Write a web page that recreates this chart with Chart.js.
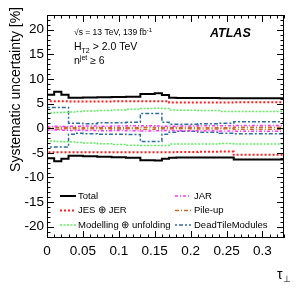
<!DOCTYPE html>
<html lang="en">
<head>
<meta charset="utf-8">
<title>Systematic uncertainty vs tau</title>
<script src="https://cdn.jsdelivr.net/npm/chart.js@4.4.1/dist/chart.umd.min.js"></script>
<style>
    html, body { margin: 0; padding: 0; background: #fff; }
    #wrap { position: relative; width: 300px; height: 288px; }
</style>
</head>
<body>
<div id="wrap"><canvas id="syst" width="300" height="288"></canvas></div>
<script>
// bin edges in tau_perp, one value per bin for each curve
const binEdges = [0, 0.01, 0.02, 0.03, 0.04, 0.05, 0.07, 0.09, 0.11, 0.13, 0.15, 0.16, 0.17, 0.18, 0.21, 0.24, 0.26, 0.29, 0.33];

const totalUp   = [6.3, 6.8, 7.4, 6.8, 6.2, 6.2, 6.25, 6.3, 6.35, 6.4, 6.95, 7.1, 6.75, 6.2, 6.15, 6.15, 6.1, 6.1];
const totalDown = [-5.2, -6.1, -6.7, -6.2, -5.6, -5.6, -5.7, -5.8, -5.9, -6.0, -6.5, -6.55, -6.2, -6.0, -5.95, -5.95, -5.95, -6.35];

const jesUp   = [5.75, 5.5, 5.5, 5.5, 5.45, 5.45, 5.45, 5.45, 5.5, 5.5, 5.5, 5.5, 5.5, 5.2, 5.2, 5.2, 5.25, 5.3];
const jesDown = [-4.4, -4.9, -4.9, -4.9, -4.9, -4.9, -4.9, -4.9, -4.9, -4.9, -4.9, -4.9, -4.9, -4.9, -4.85, -4.8, -4.75, -5.4];

const modelUp   = [3.0, 3.1, 3.2, 3.25, 3.3, 3.4, 3.5, 3.6, 3.7, 3.85, 4.0, 4.05, 4.0, 3.7, 3.65, 3.6, 3.4, 3.4];
const modelDown = [-2.5, -2.6, -2.7, -2.75, -2.8, -2.9, -3.0, -3.15, -3.3, -3.45, -3.5, -3.5, -3.5, -3.2, -3.2, -3.2, -3.1, -3.2];

const jarUp   = [0.3, 0.35, 0.4, 0.35, 0.4, 0.4, 0.45, 0.4, 0.45, 0.5, 0.5, 0.45, 0.4, 0.4, 0.45, 0.5, 0.5, 0.55];
const jarDown = [-0.3, -0.4, -0.35, -0.4, -0.45, -0.4, -0.45, -0.5, -0.45, -0.5, -0.55, -0.5, -0.45, -0.45, -0.5, -0.5, -0.55, -0.6];

const pileupUp   = [0.2, 0.1, 0.15, 0.2, 0.1, 0.1, 0.15, 0.1, 0.1, 0.15, 0.2, 0.1, 0.1, 0.1, 0.15, 0.1, 0.1, 0.2];
const pileupDown = [-0.15, -0.1, -0.2, -0.1, -0.1, -0.15, -0.1, -0.1, -0.15, -0.1, -0.2, -0.15, -0.1, -0.1, -0.1, -0.15, -0.1, -0.2];

const deadTileUp   = [0.3, 4.2, 4.2, 4.2, 1.0, 1.0, 0.9, 1.1, 1.1, 1.2, 3.0, 3.0, 1.2, 0.8, 0.8, 0.9, 1.0, 1.3];
const deadTileDown = [-0.3, -3.8, -3.8, -3.8, -1.2, -1.0, -1.1, -1.2, -1.2, -1.3, -2.7, -2.7, -1.2, -0.8, -0.6, -0.8, -1.0, -1.1];

const legendNames = ['Total', 'JES \u2295 JER', 'Modelling \u2295 unfolding', 'JAR', 'Pile-up', 'DeadTileModules'];
const xTickValues = [0, 0.05, 0.1, 0.15, 0.2, 0.25, 0.3];
const yTickValues = [-20, -15, -10, -5, 0, 5, 10, 15, 20];

const curves = [
    [totalUp, totalDown],
    [jesUp, jesDown],
    [modelUp, modelDown],
    [jarUp, jarDown],
    [pileupUp, pileupDown],
    [deadTileUp, deadTileDown],
];

const styles = [
    { color: '#000000', dash: [], width: 2 },
    { color: '#ff1f1f', dash: [2, 2], width: 2 },
    { color: '#5ef05e', dash: [2, 1.5], width: 1.5 },
    { color: '#ff33ff', dash: [3, 2, 1, 2], width: 1.5 },
    { color: '#cc6a2a', dash: [4, 2, 1, 2], width: 1.5 },
    { color: '#2f6e9e', dash: [2, 2, 4, 2], width: 1.5 },
];

const FONT = "'Liberation Sans', Arial, Helvetica, sans-serif";

const toSteps = (vals) => binEdges.map((e, k) => ({ x: e, y: vals[Math.min(k, vals.length - 1)] }));

const datasets = [];
curves.forEach((pair, i) => {
    pair.forEach((vals) => {
        datasets.push({
            label: legendNames[i],
            data: toSteps(vals),
            borderColor: styles[i].color,
            borderDash: styles[i].dash,
            borderWidth: styles[i].width,
            stepped: 'after',
            pointRadius: 0,
            fill: false,
        });
    });
});

// draws text with sub/superscripts, parts: [text, size, dy]
const drawParts = (ctx, parts, x, y, weight = '') => {
    parts.forEach(([t, size, dy]) => {
        ctx.font = `${weight} ${size}px ${FONT}`;
        ctx.fillText(t, x, y + dy);
        x += ctx.measureText(t).width;
    });
};

const rootFrame = {
    id: 'rootFrame',
    afterDraw(chart) {
        const { ctx, chartArea: a, scales: { x, y } } = chart;
        ctx.save();
        ctx.strokeStyle = '#000';
        ctx.lineWidth = 1;
        ctx.setLineDash([]);
        ctx.strokeRect(a.left + 0.5, a.top + 0.5, a.right - a.left - 1, a.bottom - a.top - 1);

        ctx.beginPath();
        for (let k = 0; k <= 33; k++) {
            const v = k / 100;
            const px = Math.round(x.getPixelForValue(v)) + 0.5;
            const len = k % 5 === 0 ? 7 : 3.5;
            ctx.moveTo(px, a.bottom); ctx.lineTo(px, a.bottom - len);
            ctx.moveTo(px, a.top); ctx.lineTo(px, a.top + len);
        }
        for (let v = -22; v <= 23; v++) {
            const py = Math.round(y.getPixelForValue(v)) + 0.5;
            const len = v % 5 === 0 ? 7 : 3.5;
            ctx.moveTo(a.left, py); ctx.lineTo(a.left + len, py);
            ctx.moveTo(a.right, py); ctx.lineTo(a.right - len, py);
        }
        ctx.stroke();

        ctx.fillStyle = '#000';
        ctx.textBaseline = 'alphabetic';
        ctx.textAlign = 'left';

        // labels in the top left corner
        drawParts(ctx, [['\u221As = 13 TeV, 139 fb', 8.5, 0], ['-1', 6, -3.5]], 74, 35);
        drawParts(ctx, [['H', 10.5, 0], ['T2', 7, 2.5], [' > 2.0 TeV', 10.5, 0]], 74, 50);
        drawParts(ctx, [['n', 10.5, 0], ['jet', 7, -4.5], [' \u2265 6', 10.5, 0]], 74, 64);
        drawParts(ctx, [['ATLAS', 12.5, 0]], 210, 37, 'italic bold');

        // axis titles
        drawParts(ctx, [['\u03C4', 14, 0], ['\u22A5', 9, 2.5]], 277, 279);
        ctx.save();
        ctx.translate(20, 7);
        ctx.rotate(-Math.PI / 2);
        ctx.textAlign = 'right';
        ctx.font = `14px ${FONT}`;
        ctx.fillText('Systematic uncertainty [%]', 0, 0);
        ctx.restore();

        // legend, two columns
        const cols = [[60, 78], [175, 194]];
        const rows = [196, 210.5, 225];
        legendNames.forEach((name, i) => {
            const [lx, tx] = cols[Math.floor(i / 3)];
            const ly = rows[i % 3];
            ctx.beginPath();
            ctx.strokeStyle = styles[i].color;
            ctx.lineWidth = styles[i].width;
            ctx.setLineDash(styles[i].dash);
            ctx.moveTo(lx, ly); ctx.lineTo(lx + 16, ly);
            ctx.stroke();
            ctx.setLineDash([]);
            ctx.textBaseline = 'middle';
            ctx.font = `9.5px ${FONT}`;
            ctx.fillText(name, tx, ly);
        });
        ctx.restore();
    }
};

new Chart(document.getElementById('syst'), {
    type: 'line',
    data: { datasets },
    options: {
        responsive: false,
        devicePixelRatio: 1,
        animation: false,
        layout: { padding: { top: 15, right: 16, left: 0, bottom: 0 } },
        plugins: { legend: { display: false }, tooltip: { enabled: false } },
        scales: {
            x: {
                type: 'linear',
                min: 0,
                max: 0.33,
                grid: { display: false, drawTicks: false },
                border: { display: false },
                afterBuildTicks: (s) => { s.ticks = xTickValues.map(v => ({ value: v })); },
                afterFit: (s) => { s.height = 50; },
                ticks: {
                    color: '#000',
                    padding: 5,
                    maxRotation: 0,
                    autoSkip: false,
                    font: { family: FONT, size: 13.5 },
                    callback: (v) => String(+Number(v).toFixed(2)),
                },
            },
            y: {
                min: -22.3,
                max: 23,
                grid: { display: false, drawTicks: false },
                border: { display: false },
                afterBuildTicks: (s) => { s.ticks = yTickValues.map(v => ({ value: v })); },
                afterFit: (s) => { s.width = 47; },
                ticks: {
                    color: '#000',
                    padding: 3,
                    font: { family: FONT, size: 13.5 },
                },
            },
        },
    },
    plugins: [rootFrame],
});
</script>
</body>
</html>
